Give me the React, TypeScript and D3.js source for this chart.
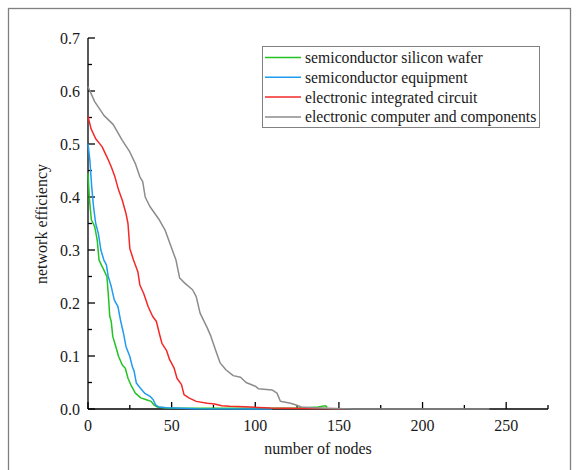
import React from "react";
import * as d3 from "d3";

const seriesNames = [
  "semiconductor silicon wafer",
  "semiconductor equipment",
  "electronic integrated circuit",
  "electronic computer and components",
];
const seriesColors = ["#22c322", "#1f9bf0", "#f52828", "#8c8c8c"];

const waferX = [0, 0.9, 2, 4, 5.5, 6.6, 9.5, 11.3, 12.1, 13, 13.9, 14.8, 16.6, 18.3, 20.5, 22.3, 23.9, 26, 28.3, 31.6, 34.9, 37.8, 39.3, 41.5, 47, 58, 124, 131, 137.6, 142, 143];
const waferY = [0.445, 0.394, 0.357, 0.344, 0.319, 0.281, 0.262, 0.25, 0.218, 0.175, 0.165, 0.137, 0.118, 0.099, 0.083, 0.077, 0.058, 0.043, 0.03, 0.021, 0.0176, 0.0144, 0.008, 0.0038, 0.002, 0.0013, 0.0013, 0.0025, 0.004, 0.006, 0.003];

const equipX = [0, 1.1, 2.2, 3.3, 4.6, 6.2, 7.7, 9.5, 11, 12.1, 13.9, 15.7, 17.9, 19.4, 21.2, 22.7, 25, 26.5, 27.6, 28.9, 31.1, 33.8, 37.1, 38.9, 40.4, 42.2, 47, 51.5, 64.7, 102, 110];
const equipY = [0.501, 0.47, 0.42, 0.382, 0.35, 0.331, 0.3, 0.281, 0.272, 0.25, 0.231, 0.206, 0.193, 0.168, 0.143, 0.118, 0.099, 0.08, 0.071, 0.049, 0.04, 0.03, 0.024, 0.018, 0.008, 0.004, 0.0025, 0.002, 0.0006, 0, 0];

const circuitX = [0, 1.8, 4.6, 8.4, 11.7, 13.9, 16.1, 18.3, 20.5, 22.7, 23.9, 25, 27.2, 29.8, 31, 33.3, 36, 38.6, 40.9, 42.6, 44.2, 47, 48.8, 51.5, 53.2, 55.9, 57.4, 60.3, 64.7, 71.3, 75.7, 80, 84.6, 93.4, 102, 109, 117.7, 153];
const circuitY = [0.552, 0.529, 0.51, 0.495, 0.473, 0.457, 0.438, 0.413, 0.394, 0.369, 0.35, 0.303, 0.281, 0.259, 0.234, 0.218, 0.193, 0.175, 0.165, 0.143, 0.124, 0.11, 0.093, 0.077, 0.058, 0.046, 0.027, 0.021, 0.0144, 0.011, 0.0094, 0.0063, 0.005, 0.0044, 0.003, 0.0019, 0.0013, 0.0006];

const computerX = [0, 4, 9.5, 15, 20.5, 25, 28.3, 31, 32.7, 34.2, 37, 42.6, 46, 49.7, 52.6, 54.8, 58, 62.5, 64.7, 67, 71.3, 73.5, 76.2, 79, 82.4, 86.8, 91.2, 94.5, 100, 102, 110, 113, 115, 121, 124, 127.6, 135, 146, 160, 240];
const computerY = [0.608, 0.58, 0.554, 0.537, 0.507, 0.485, 0.463, 0.438, 0.429, 0.4, 0.382, 0.357, 0.338, 0.306, 0.281, 0.247, 0.237, 0.225, 0.212, 0.181, 0.153, 0.137, 0.112, 0.087, 0.074, 0.063, 0.06, 0.05, 0.043, 0.038, 0.036, 0.03, 0.0145, 0.011, 0.008, 0.004, 0.0025, 0.001, 0, 0];

const xTicks = [0, 50, 100, 150, 200, 250];
const xMinorTicks = [25, 75, 125, 175, 225, 275];
const yTicks = [0, 0.1, 0.2, 0.3, 0.4, 0.5, 0.6, 0.7];
const yMinorTicks = [0.05, 0.15, 0.25, 0.35, 0.45, 0.55, 0.65];

const W = 579;
const H = 470;
const textStyle = { fontFamily: "Liberation Serif, serif" };

export default function App() {
  const x = d3.scaleLinear().domain([0, 275]).range([88, 548]);
  const y = d3.scaleLinear().domain([0, 0.7]).range([409, 38]);

  const seriesX = [waferX, equipX, circuitX, computerX];
  const seriesY = [waferY, equipY, circuitY, computerY];
  const line = d3
    .line<[number, number]>()
    .x((d) => x(d[0]))
    .y((d) => y(d[1]));

  const paths = seriesX.map((xs, i) =>
    line(xs.map((v, j) => [v, seriesY[i][j]] as [number, number]))
  );

  return (
    <svg
      width={W}
      height={H}
      style={{ position: "absolute", left: 0, top: 0, display: "block" }}
    >
      <rect x={0} y={0} width={W} height={H} fill="#fff" />
      <rect x={8.5} y={8.5} width={562} height={470} fill="none" stroke="#808080" strokeWidth={1.3} />

      {/* axes */}
      <line x1={x(0)} x2={x(0)} y1={y(0.7)} y2={y(0)} stroke="#000" strokeWidth={1.3} />
      <line x1={x(0)} x2={x(275)} y1={y(0)} y2={y(0)} stroke="#000" strokeWidth={1.3} />

      {yTicks.map((t) => (
        <g key={"y" + t}>
          <line x1={x(0)} x2={x(0) + 7} y1={y(t)} y2={y(t)} stroke="#000" strokeWidth={1.3} />
          <text x={80} y={y(t)} dy="0.35em" textAnchor="end" fontSize={16} fill="#1a1a1a" style={textStyle}>
            {t.toFixed(1)}
          </text>
        </g>
      ))}
      {yMinorTicks.map((t) => (
        <line key={"ym" + t} x1={x(0)} x2={x(0) + 4} y1={y(t)} y2={y(t)} stroke="#000" strokeWidth={1.3} />
      ))}
      {xTicks.map((t) => (
        <g key={"x" + t}>
          <line x1={x(t)} x2={x(t)} y1={y(0)} y2={y(0) - 7} stroke="#000" strokeWidth={1.3} />
          <text x={x(t)} y={431} textAnchor="middle" fontSize={16} fill="#1a1a1a" style={textStyle}>
            {t}
          </text>
        </g>
      ))}
      {xMinorTicks.map((t) => (
        <line key={"xm" + t} x1={x(t)} x2={x(t)} y1={y(0)} y2={y(0) - 4} stroke="#000" strokeWidth={1.3} />
      ))}

      {/* series */}
      {paths.map((p, i) => (
        <path key={i} d={p || ""} fill="none" stroke={seriesColors[i]} strokeWidth={1.5} strokeLinejoin="round" />
      ))}

      {/* axis titles */}
      <text x={318} y={454} textAnchor="middle" fontSize={16} fill="#1a1a1a" style={textStyle}>
        number of nodes
      </text>
      <text
        transform={`translate(${41},${224}) rotate(-90)`}
        textAnchor="middle"
        dy="0.35em"
        fontSize={16}
        fill="#1a1a1a"
        style={textStyle}
      >
        network efficiency
      </text>

      {/* legend */}
      <rect x={262.5} y={46.5} width={277} height={81} fill="#fff" stroke="#808080" strokeWidth={1} />
      {seriesNames.map((name, i) => {
        const cy = 57.5 + i * 19.8;
        return (
          <g key={name}>
            <line x1={265} x2={301} y1={cy} y2={cy} stroke={seriesColors[i]} strokeWidth={1.5} />
            <text x={305} y={cy} dy="0.35em" fontSize={15.7} fill="#1a1a1a" style={textStyle}>
              {name}
            </text>
          </g>
        );
      })}
    </svg>
  );
}
